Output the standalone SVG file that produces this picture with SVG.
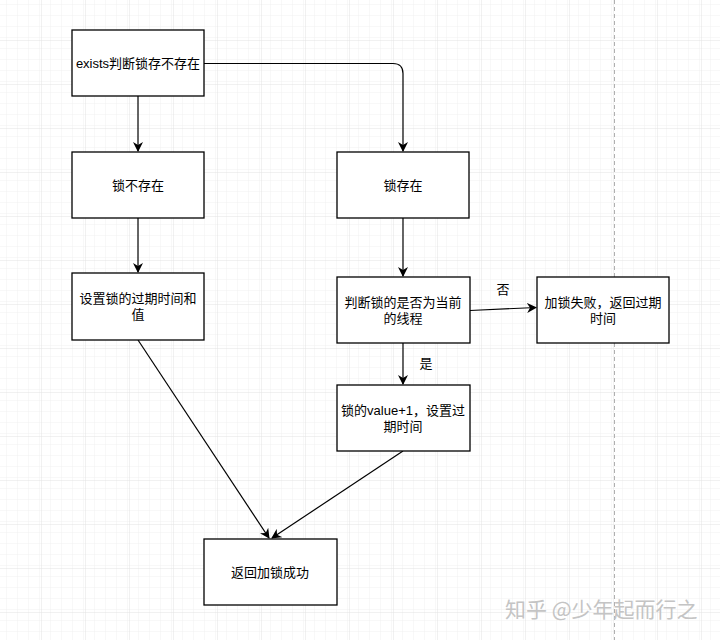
<svg xmlns="http://www.w3.org/2000/svg" width="720" height="640" viewBox="0 0 720 640">
<defs>
<pattern id="minor" width="11" height="11" patternUnits="userSpaceOnUse" x="-2" y="-3">
<path d="M11 0V11M0 11H11" fill="none" stroke="#f0f0f0" stroke-width="1"/>
</pattern>
<pattern id="major" width="44" height="44" patternUnits="userSpaceOnUse" x="-2" y="-3">
<rect width="44" height="44" fill="url(#minor)"/>
<path d="M44 0V44M0 44H44" fill="none" stroke="#e3e3e3" stroke-width="1"/>
</pattern>
<marker id="arr" viewBox="0 0 10 10" refX="9" refY="5" markerWidth="10" markerHeight="10" markerUnits="userSpaceOnUse" orient="auto">
<path d="M0 0L10 5L0 10L3 5Z" fill="#000"/>
</marker>
<style>
.box{fill:#fff;stroke:#000;stroke-width:1.3}
.t{font-family:"Liberation Sans","Noto Sans CJK SC",sans-serif;font-size:13px;fill:#000;text-anchor:middle}
.c{fill:none;stroke:#000;stroke-width:1.2;marker-end:url(#arr)}
.wm{font-family:"Noto Sans CJK SC",sans-serif;font-size:21px;fill:#c4c4c4}
</style>
</defs>
<rect width="720" height="640" fill="#fff"/>
<rect width="720" height="640" fill="url(#major)"/>
<line x1="614.5" y1="0" x2="614.5" y2="640" stroke="#b0b0b0" stroke-width="1" stroke-dasharray="4 3"/>

<g id="connectors">
<path class="c" d="M138 96V151"/>
<path class="c" d="M204 63.5H393Q403 63.5 403 73.5V151"/>
<path class="c" d="M138 218V272"/>
<path class="c" d="M403 218V276"/>
<path class="c" d="M470 310.5L536 307.5"/>
<path class="c" d="M403 343V384"/>
<path class="c" d="M138 340L269 538"/>
<path class="c" d="M403 451L272 538"/>
<text class="t" x="503" y="294">否</text>
<text class="t" x="426" y="368">是</text>
</g>

<g id="n1"><rect class="box" x="72" y="30" width="132" height="66"/><text class="t" x="138" y="68">exists判断锁存不存在</text></g>
<g id="n2"><rect class="box" x="72" y="152" width="132" height="66"/><text class="t" x="138" y="190">锁不存在</text></g>
<g id="n3"><rect class="box" x="72" y="273" width="132" height="67"/><text class="t" x="138" y="303">设置锁的过期时间和</text><text class="t" x="138" y="319">值</text></g>
<g id="n4"><rect class="box" x="337" y="152" width="132" height="66"/><text class="t" x="403" y="190">锁存在</text></g>
<g id="n5"><rect class="box" x="337" y="277" width="133" height="66"/><text class="t" x="403" y="307">判断锁的是否为当前</text><text class="t" x="403" y="323">的线程</text></g>
<g id="n6"><rect class="box" x="537" y="277" width="132" height="66"/><text class="t" x="603" y="307">加锁失败，返回过期</text><text class="t" x="603" y="323">时间</text></g>
<g id="n7"><rect class="box" x="337" y="385" width="133" height="66"/><text class="t" x="403" y="415">锁的value+1，设置过</text><text class="t" x="403" y="431">期时间</text></g>
<g id="n8"><rect class="box" x="204" y="539" width="133" height="66"/><text class="t" x="270" y="577">返回加锁成功</text></g>

<text class="wm" x="505" y="617">知乎 @少年起而行之</text>
</svg>
